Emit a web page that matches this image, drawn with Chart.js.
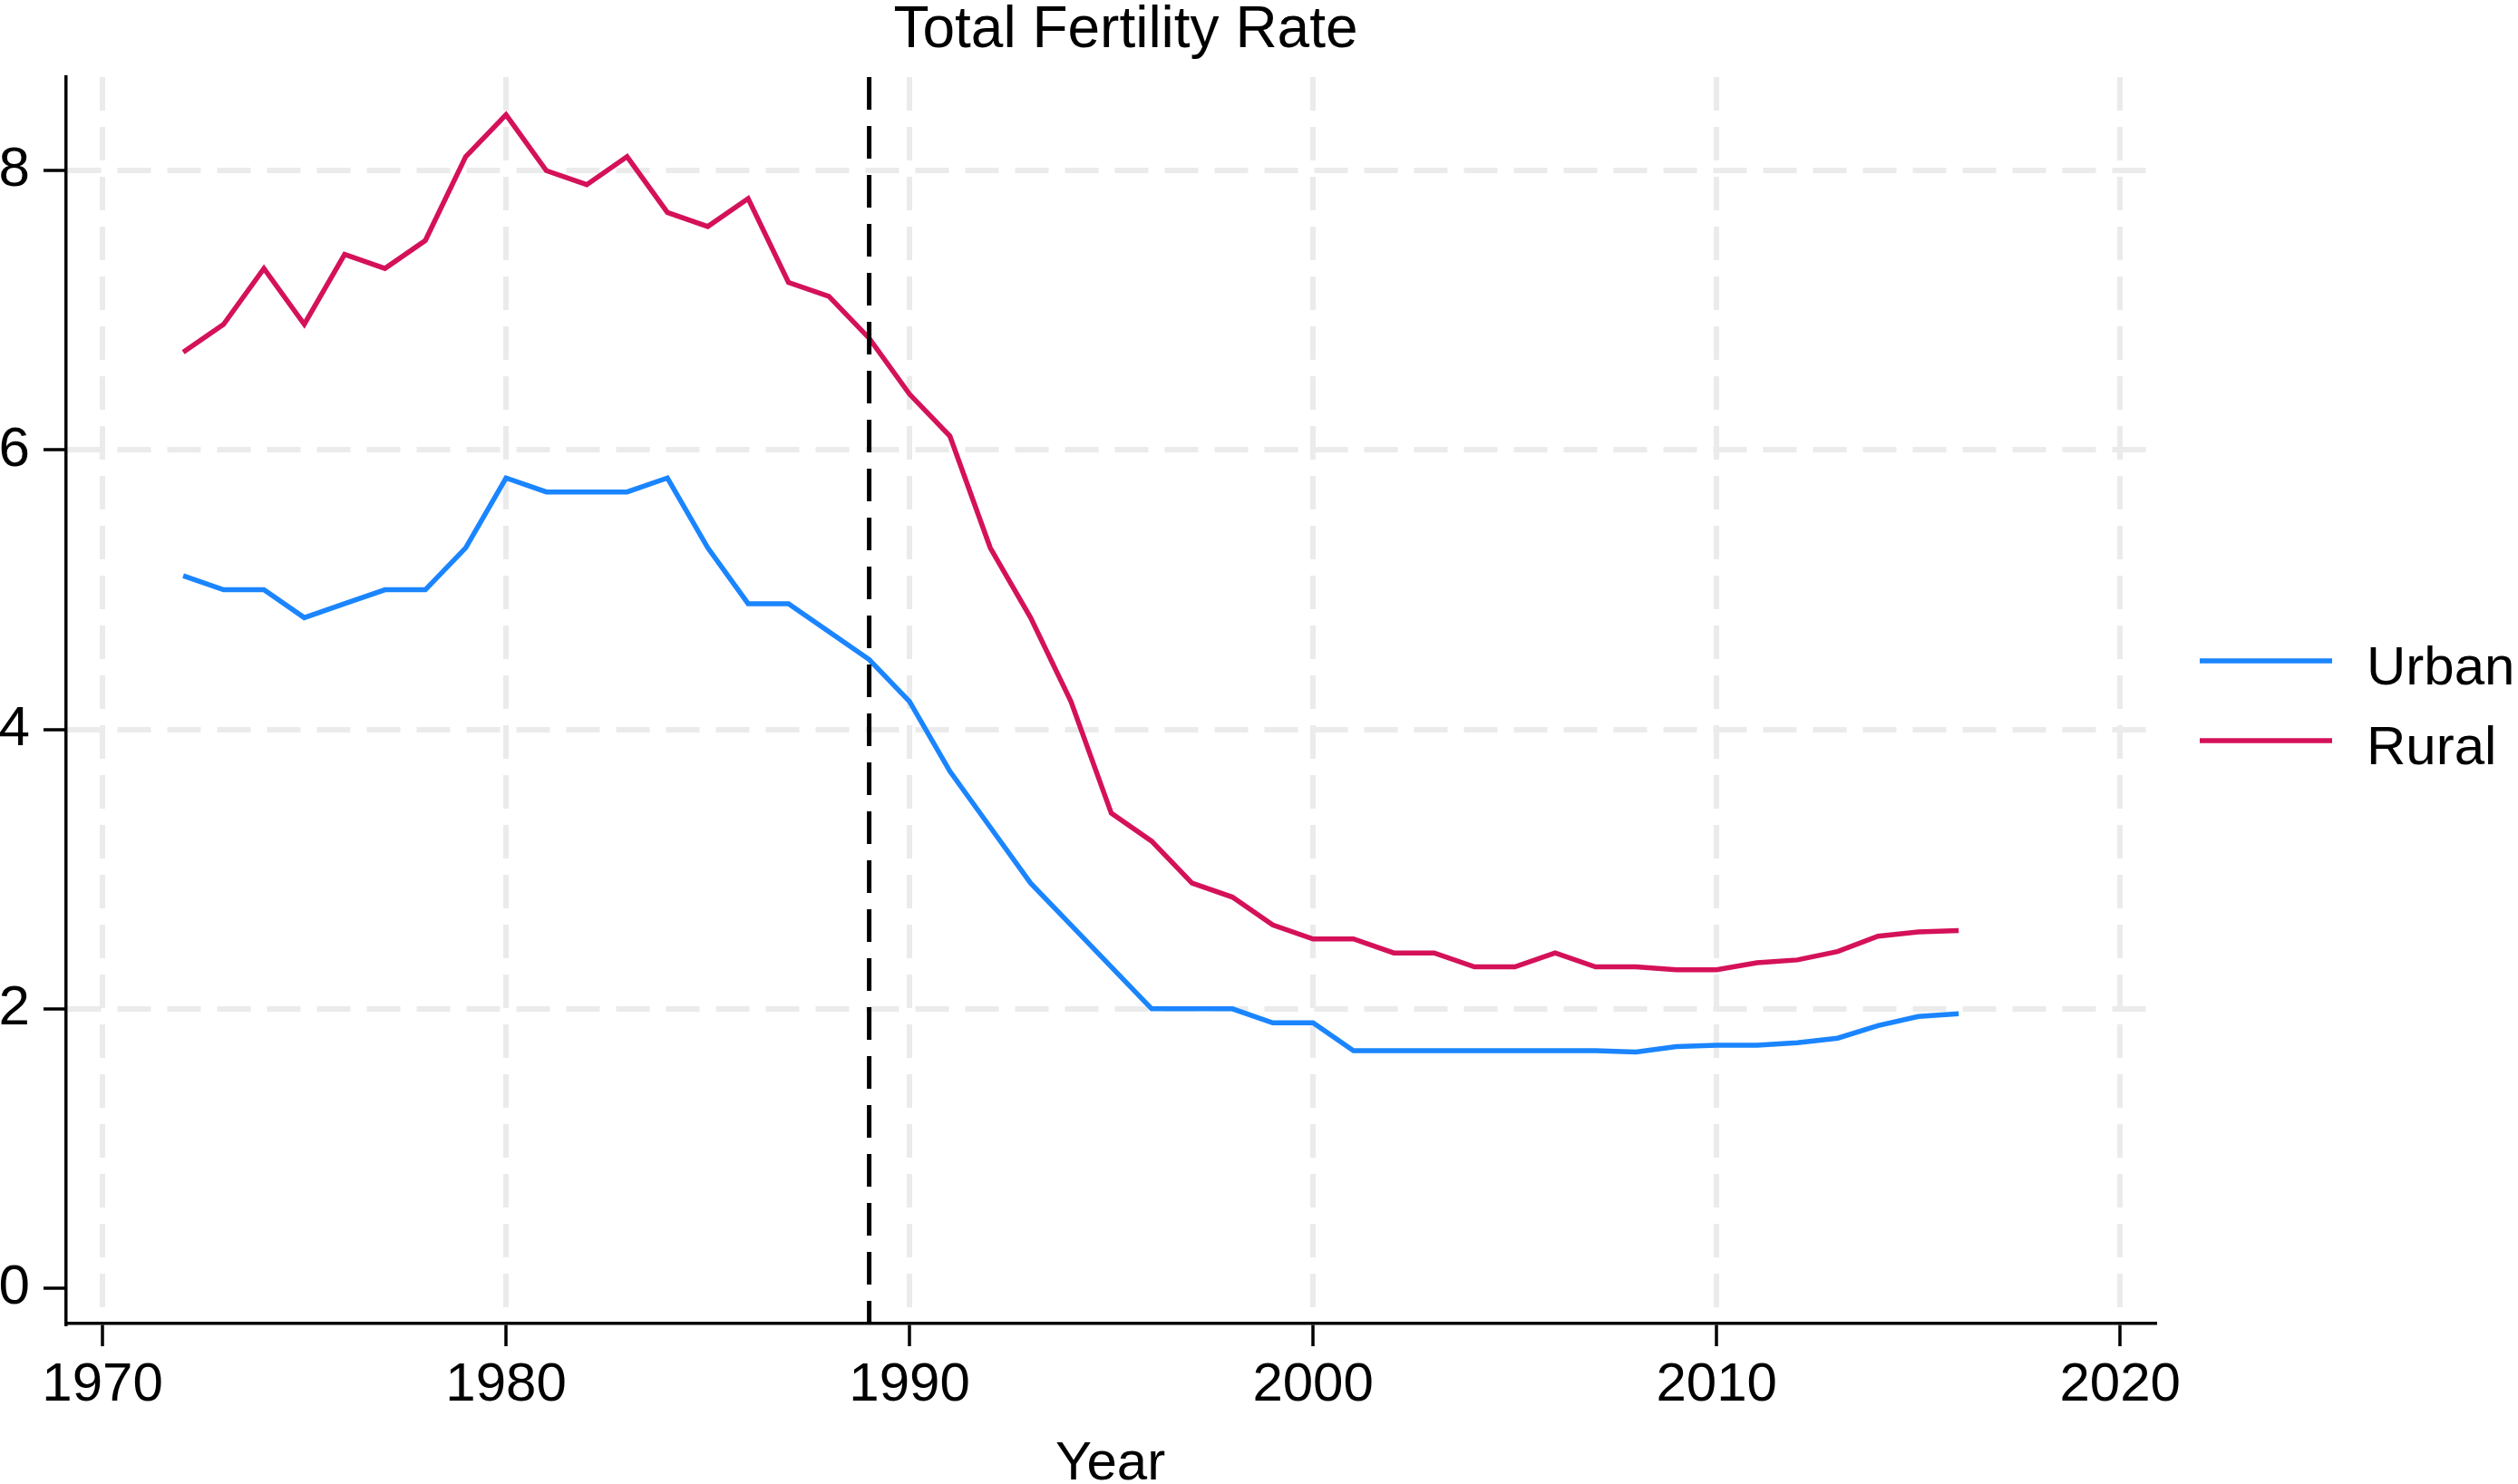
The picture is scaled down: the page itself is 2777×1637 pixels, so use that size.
<!DOCTYPE html>
<html>
<head>
<meta charset="utf-8">
<script src="https://cdn.jsdelivr.net/npm/chart.js@4/dist/chart.umd.min.js"></script>
<style>
  html, body { margin: 0; padding: 0; background: #fff; }
  #wrap { width: 2777px; height: 1637px; position: relative; }
</style>
</head>
<body>
<div id="wrap"><canvas id="chart"></canvas></div>
<script>
// data
var years = [1972, 1973, 1974, 1975, 1976, 1977, 1978, 1979, 1980, 1981, 1982, 1983, 1984, 1985, 1986,
  1987, 1988, 1989, 1990, 1991, 1992, 1993, 1994, 1995, 1996, 1997, 1998, 1999, 2000, 2001, 2002,
  2003, 2004, 2005, 2006, 2007, 2008, 2009, 2010, 2011, 2012, 2013, 2014, 2015, 2016];
var urban = [5.1, 5.0, 5.0, 4.8, 4.9, 5.0, 5.0, 5.3, 5.8, 5.7, 5.7, 5.7, 5.8, 5.3, 4.9,
  4.9, 4.7, 4.5, 4.2, 3.7, 3.3, 2.9, 2.6, 2.3, 2.0, 2.0, 2.0, 1.9, 1.9, 1.7, 1.7,
  1.7, 1.7, 1.7, 1.7, 1.7, 1.69, 1.73, 1.74, 1.74, 1.757, 1.79, 1.88, 1.945, 1.965];
var rural = [6.7, 6.9, 7.3, 6.9, 7.4, 7.3, 7.5, 8.1, 8.4, 8.0, 7.9, 8.1, 7.7, 7.6, 7.8,
  7.2, 7.1, 6.8, 6.4, 6.1, 5.3, 4.8, 4.2, 3.4, 3.2, 2.9, 2.8, 2.6, 2.5, 2.5, 2.4,
  2.4, 2.3, 2.3, 2.4, 2.3, 2.3, 2.28, 2.28, 2.33, 2.35, 2.41, 2.52, 2.55, 2.56];
var seriesNames = ["Urban", "Rural"];
var seriesColors = ["#1a85ff", "#d41159"];
var xTicks = [1970, 1980, 1990, 2000, 2010, 2020];
var yTicks = [0, 2, 4, 6, 8];
var xMin = 1969.1, xMax = 2020.85;
var yMin = -0.253, yMax = 8.67;
var markYear = 1989;
var titleText = "Total Fertility Rate";
var xTitle = "Year";

var FONT = "'Liberation Sans', Helvetica, Arial, sans-serif";

function pts(vals) {
  return years.map(function (y, i) { return { x: y, y: vals[i] }; });
}

// title and legend drawn on top of the chart
var extras = {
  id: "extras",
  afterDraw: function (chart) {
    var ctx = chart.ctx;
    var a = chart.chartArea;
    ctx.save();
    ctx.fillStyle = "#000";
    ctx.textBaseline = "alphabetic";
    ctx.textAlign = "center";
    ctx.font = "64px " + FONT;
    ctx.fillText(titleText, (a.left + a.right) / 2 + 17, 52);

    ctx.textAlign = "left";
    ctx.font = "60px " + FONT;
    var ys = [729, 817];
    for (var i = 0; i < seriesNames.length; i++) {
      ctx.strokeStyle = seriesColors[i];
      ctx.lineWidth = 5.5;
      ctx.beginPath();
      ctx.moveTo(2426, ys[i]);
      ctx.lineTo(2572, ys[i]);
      ctx.stroke();
      ctx.fillText(seriesNames[i], 2610, ys[i] + 26);
    }
    ctx.restore();
  }
};

var ctx = document.getElementById("chart");
var myChart = new Chart(ctx, {
  type: "line",
  data: {
    datasets: [
      {
        label: "mark",
        data: [{ x: markYear, y: yMax }, { x: markYear, y: yMin }],
        borderColor: "#000",
        borderWidth: 5,
        borderDash: [36, 18],
        pointRadius: 0,
        order: 0
      },
      {
        label: seriesNames[0],
        data: pts(urban),
        borderColor: seriesColors[0],
        backgroundColor: seriesColors[0],
        borderWidth: 5.5,
        pointRadius: 0,
        tension: 0,
        order: 1
      },
      {
        label: seriesNames[1],
        data: pts(rural),
        borderColor: seriesColors[1],
        backgroundColor: seriesColors[1],
        borderWidth: 5.5,
        pointRadius: 0,
        tension: 0,
        order: 2
      }
    ]
  },
  options: {
    responsive: true,
    maintainAspectRatio: false,
    devicePixelRatio: 1,
    animation: false,
    layout: { padding: { left: 0, right: 401, top: 85, bottom: 0 } },
    plugins: {
      legend: { display: false },
      title: { display: false },
      tooltip: { enabled: false }
    },
    scales: {
      x: {
        type: "linear",
        min: xMin,
        max: xMax,
        afterFit: function (s) { s.height = 177; },
        afterBuildTicks: function (s) { s.ticks = xTicks.map(function (v) { return { value: v }; }); },
        ticks: {
          includeBounds: false,
          autoSkip: false,
          maxRotation: 0,
          padding: 7,
          color: "#000",
          font: { family: FONT, size: 60 },
          callback: function (v) { return String(v); }
        },
        grid: {
          color: "#ebebeb",
          lineWidth: 6,
          tickColor: "#000",
          tickWidth: 3.5,
          tickLength: 25
        },
        border: { display: true, color: "#000", width: 3.5, dash: [37, 18] },
        title: {
          display: true,
          text: xTitle,
          color: "#000",
          font: { family: FONT, size: 60, lineHeight: 1 },
          padding: { top: 0, bottom: -8 }
        }
      },
      y: {
        type: "linear",
        min: yMin,
        max: yMax,
        afterFit: function (s) { s.width = 73; },
        afterBuildTicks: function (s) { s.ticks = yTicks.map(function (v) { return { value: v }; }); },
        ticks: {
          includeBounds: false,
          autoSkip: false,
          padding: 15,
          color: "#000",
          font: { family: FONT, size: 62 },
          callback: function (v) { return String(v); }
        },
        grid: {
          color: function (c) { return c.tick && c.tick.value === 0 ? "rgba(0,0,0,0)" : "#ebebeb"; },
          lineWidth: 6,
          tickColor: "#000",
          tickWidth: 3.5,
          tickLength: 25
        },
        border: { display: true, color: "#000", width: 3.5, dash: [37, 18] }
      }
    }
  },
  plugins: [extras]
});
</script>
</body>
</html>
